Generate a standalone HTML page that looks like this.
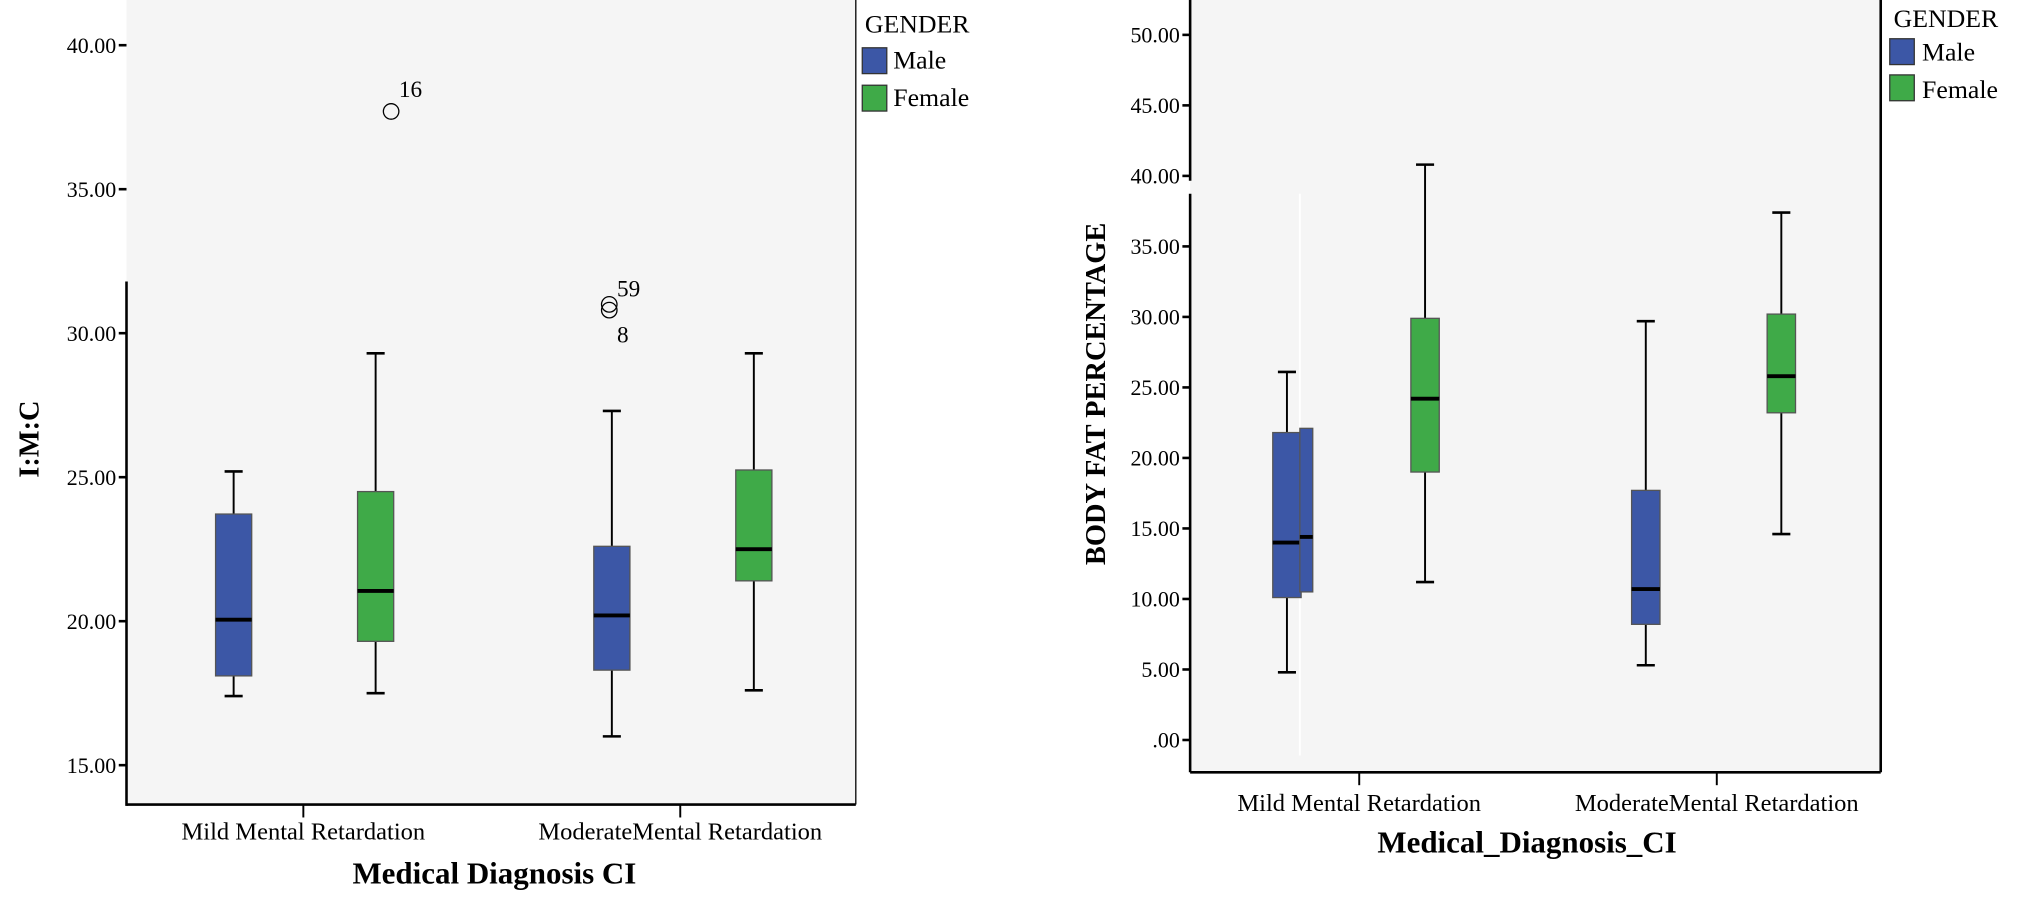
<!DOCTYPE html>
<html><head><meta charset="utf-8"><style>
html,body{margin:0;padding:0;background:#fff;}
svg{display:block;font-family:"Liberation Serif",serif;}
</style></head><body>
<svg id="s" width="2024" height="904" viewBox="0 0 1568 700" preserveAspectRatio="none" xmlns="http://www.w3.org/2000/svg">
<g>
<rect x="98" y="0" width="565" height="623" fill="#f5f5f5"/>
<line x1="98" y1="218" x2="98" y2="624" stroke="#000" stroke-width="2"/>
<line x1="98" y1="623" x2="663" y2="623" stroke="#000" stroke-width="2"/>
<line x1="663" y1="0" x2="663" y2="623" stroke="#000" stroke-width="1"/>
<g id="lt"></g><g id="lb"></g>
<text x="383" y="684" font-size="24" font-weight="bold" text-anchor="middle">Medical Diagnosis CI</text>
<text transform="translate(30,340) rotate(-90)" font-size="22" font-weight="bold" text-anchor="middle">I:M:C</text>
<g>
<text x="670" y="25" font-size="20">GENDER</text>
<rect x="668" y="37" width="19" height="20" fill="#3c57a6" stroke="#333"/><text x="692" y="53" font-size="20">Male</text>
<rect x="668" y="66" width="19" height="20" fill="#3faa48" stroke="#333"/><text x="692" y="82" font-size="20">Female</text>
</g>
</g>
<g>
<rect x="922" y="0" width="535" height="598" fill="#f5f5f5"/>
<line x1="1007" y1="150" x2="1007" y2="585" stroke="#fff" stroke-width="1.5"/>
<line x1="922" y1="0" x2="922" y2="140" stroke="#000" stroke-width="2"/>
<line x1="922" y1="150" x2="922" y2="598" stroke="#000" stroke-width="2"/>
<line x1="922" y1="598" x2="1457" y2="598" stroke="#000" stroke-width="2"/>
<line x1="1457" y1="0" x2="1457" y2="598" stroke="#000" stroke-width="2"/>
<g id="rt"></g><g id="rb"></g>
<text x="1183" y="660" font-size="24" font-weight="bold" text-anchor="middle">Medical_Diagnosis_CI</text>
<text transform="translate(856,305) rotate(-90)" font-size="22" font-weight="bold" text-anchor="middle">BODY FAT PERCENTAGE</text>
<g>
<text x="1467" y="21" font-size="20">GENDER</text>
<rect x="1464" y="30" width="19" height="20" fill="#3c57a6" stroke="#333"/><text x="1489" y="47" font-size="20">Male</text>
<rect x="1464" y="58" width="19" height="20" fill="#3faa48" stroke="#333"/><text x="1489" y="76" font-size="20">Female</text>
</g>
</g>
</svg>
<script>
const leftTicks=[15,20,25,30,35,40];
const leftCats=["Mild Mental Retardation","ModerateMental Retardation"];
const leftQ3=[23.72,24.5,22.6,25.25];
const leftQ1=[18.1,19.3,18.3,21.4];
const leftMed=[20.05,21.05,20.2,22.5];
const leftHi=[25.2,29.3,27.3,29.3];
const leftLo=[17.4,17.5,16.0,17.6];
const leftOutVal=[37.7,31.0,30.8];
const leftOutIdx=[1,2,2];
const leftOutLbl=["16","59","8"];
const rightTicks=[0,5,10,15,20,25,30,35,40,45,50];
const rightCats=["Mild Mental Retardation","ModerateMental Retardation"];
const rightQ3=[21.8,29.9,17.7,30.2];
const rightQ1=[10.1,19.0,8.2,23.2];
const rightMed=[14.0,24.2,10.7,25.8];
const rightHi=[26.1,40.8,29.7,37.4];
const rightLo=[4.8,11.2,5.3,14.6];
const NS="http://www.w3.org/2000/svg";
function mk(p,t,a){const e=document.createElementNS(NS,t);for(const k in a)e.setAttribute(k,a[k]);p.appendChild(e);return e;}
const ly=v=>481-(v-20)*22.3;
const ry=v=>573-v*10.92;
const colors=["#3c57a6","#3faa48","#3c57a6","#3faa48"];
function axis(g,ticks,y,x0,fmt,catX,catLbls,baseY,labelY){
  ticks.forEach(t=>{
    const l=mk(g,"line",{x1:x0-6,x2:x0,y1:y(t),y2:y(t),stroke:"#000","stroke-width":2});
    
    
    const tx=mk(g,"text",{x:x0-8,y:y(t)+6,"font-size":17,"text-anchor":"end"});
    tx.textContent=fmt(t);
    
    
  });
  catLbls.forEach((c,i)=>{
    mk(g,"line",{x1:catX[i],x2:catX[i],y1:baseY,y2:baseY+10,stroke:"#000","stroke-width":1.5});
    const tx=mk(g,"text",{x:catX[i],y:labelY,"font-size":19,"text-anchor":"middle"});
    tx.textContent=c;
    
    
  });
}
function fmtT(t){return t===0?".00":t.toFixed(2);}
function boxes(g,y,xs,w,q3,q1,md,hi,lo){
  q3.forEach((_,i)=>{
    const cx=xs[i]+w/2;
    const wl=mk(g,"line",{x1:cx,x2:cx,y1:y(hi[i]),y2:y(lo[i]),stroke:"#000","stroke-width":1.5});
    
    
    [hi[i],lo[i]].forEach(v=>mk(g,"line",{x1:cx-7,x2:cx+7,y1:y(v),y2:y(v),stroke:"#000","stroke-width":2}));
    const b=mk(g,"rect",{x:xs[i],y:y(q3[i]),width:w,height:y(q1[i])-y(q3[i]),fill:colors[i],stroke:"#555","stroke-width":1});
    
    
    const m=mk(g,"line",{x1:xs[i],x2:xs[i]+w,y1:y(md[i]),y2:y(md[i]),stroke:"#000","stroke-width":3});
    
    
  });
}
const lt=document.getElementById("lt"),lb=document.getElementById("lb");
axis(lt,leftTicks,ly,98,fmtT,[235,527],leftCats,623,650);
const lx=[167,277,460,570];
boxes(lb,ly,lx,28,leftQ3,leftQ1,leftMed,leftHi,leftLo);
leftOutVal.forEach((v,i)=>{
  const cx=lx[leftOutIdx[i]]+14+(i===0?12:-2);
  const c=mk(lb,"circle",{cx:cx,cy:ly(v),r:6,fill:"none",stroke:"#000","stroke-width":1});
  
  
  const t=mk(lb,"text",{x:cx+6,y:i===0?ly(v)-11:(i===1?ly(v)-6:ly(v)+25),"font-size":18});
  t.textContent=leftOutLbl[i];
  
  
});
const rt=document.getElementById("rt"),rb=document.getElementById("rb");
axis(rt,rightTicks,ry,922,fmtT,[1053,1330],rightCats,598,628);
boxes(rb,ry,[986,1093,1264,1369],22,rightQ3,rightQ1,rightMed,rightHi,rightLo);
const sl=mk(rb,"rect",{x:1007,y:ry(22.1),width:10,height:ry(10.5)-ry(22.1),fill:"#3c57a6",stroke:"#555"});


mk(rb,"line",{x1:1007,x2:1017,y1:ry(14.4),y2:ry(14.4),stroke:"#000","stroke-width":3});
</script>
</body></html>
